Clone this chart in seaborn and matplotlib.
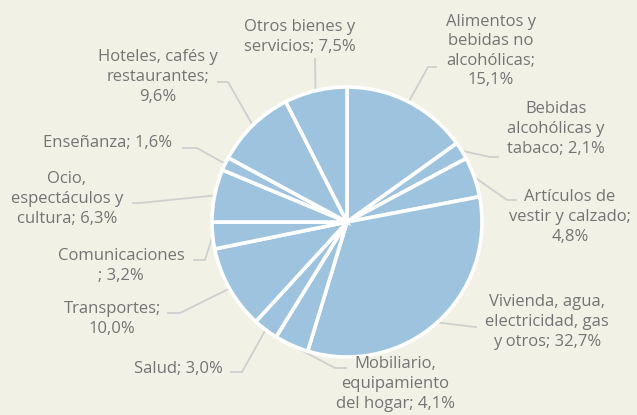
import numpy as np
import matplotlib
matplotlib.use("Agg")
import matplotlib.pyplot as plt
import seaborn as sns

categories = [
    "Alimentos y\nbebidas no\nalcohólicas;\n15,1%",
    "Bebidas\nalcohólicas y\ntabaco; 2,1%",
    "Artículos de\nvestir y calzado;\n4,8%",
    "Vivienda, agua,\nelectricidad, gas\ny otros; 32,7%",
    "Mobiliario,\nequipamiento\ndel hogar; 4,1%",
    "Salud; 3,0%",
    "Transportes;\n10,0%",
    "Comunicaciones\n; 3,2%",
    "Ocio,\nespectáculos y\ncultura; 6,3%",
    "Enseñanza; 1,6%",
    "Hoteles, cafés y\nrestaurantes;\n9,6%",
    "Otros bienes y\nservicios; 7,5%",
]
values = [15.1, 2.1, 4.8, 32.7, 4.1, 3.0, 10.0, 3.2, 6.3, 1.6, 9.6, 7.5]

# layout (pixel coordinates, y from top)
W, H = 637, 415
CX, CY, R = 347, 222, 135
text_pos = [(491, 51), (556, 129), (570, 217), (547, 322), (395, 384), (178, 369),
            (112, 319), (121, 266), (67, 199), (108, 143), (158, 77), (300, 37)]
elbow = [[(428, 67), (437, 67)],
         [(490, 157), (499, 157)],
         [(507, 200), (517, 200)],
         [(475, 327), (477, 327)],
         [(335, 368), (347, 368)],
         [(242, 372), (230, 372)],
         [(180, 313), (167, 313)],
         [(205, 260), (193, 260)],
         [(140, 203), (132, 203)],
         [(197, 148), (182, 148)],
         [(228, 82), (217, 82)],
         [(315, 58), (315, 58)]]

BG = "#f2f1e6"
FILL = "#9dc3df"
TXT = "#747474"
LINE = "#cfcfcf"

sns.set_theme(style="white")
plt.rcParams["font.family"] = ["Open Sans", "DejaVu Sans"]

fig = plt.figure(figsize=(W / 100, H / 100), dpi=100, facecolor=BG)
ax = fig.add_axes([0, 0, 1, 1])
ax.set_facecolor(BG)
ax.axis("off")

wedges, _ = ax.pie(values, startangle=90, counterclock=False,
                   colors=[FILL] * len(values), center=(CX, H - CY), radius=R,
                   wedgeprops=dict(edgecolor="white", linewidth=2.6))
ax.set_xlim(0, W)
ax.set_ylim(0, H)
ax.set_aspect("equal")

for w, lab, (tx, ty), pts in zip(wedges, categories, text_pos, elbow):
    mid = np.deg2rad((w.theta1 + w.theta2) / 2)
    ex = CX + R * np.cos(mid)
    ey = (H - CY) + R * np.sin(mid)
    xs = [ex] + [p[0] for p in pts]
    ys = [ey] + [H - p[1] for p in pts]
    ax.plot(xs, ys, color=LINE, lw=1.3, zorder=0.5, solid_capstyle="butt")
    ax.text(tx, H - ty, lab, ha="center", va="center", multialignment="center",
            color=TXT, fontsize=12, linespacing=1.3)

fig.savefig("out.png", dpi=100, facecolor=BG)
